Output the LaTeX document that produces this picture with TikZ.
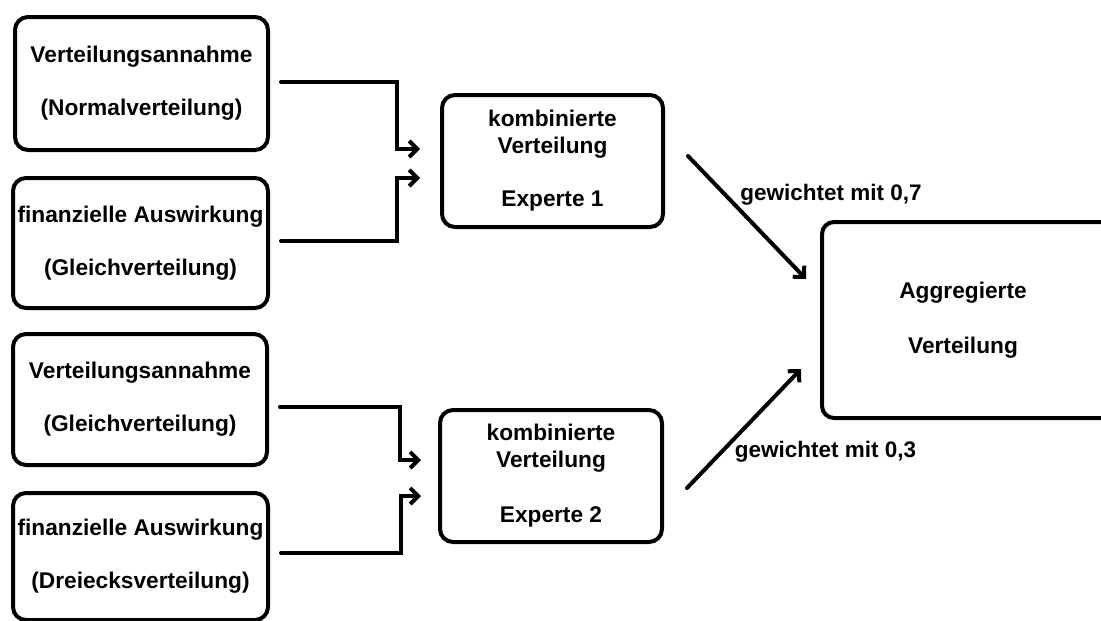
\documentclass[tikz,border=0pt]{standalone}
\usepackage{fontspec}
\setmainfont{Liberation Sans}
\usetikzlibrary{arrows.meta}
\begin{document}
\begin{tikzpicture}[x=1pt,y=-1pt,
  box/.style={draw=black, line width=4pt, rounded corners=13pt, align=center, inner sep=0pt,
    font=\bfseries\fontsize{22.7}{53}\selectfont},
  kbox/.style={box, font=\bfseries\fontsize{22.7}{27}\selectfont},
  conn/.style={line width=4pt, line cap=round, -{Straight Barb[length=8pt,width=16pt]}},
  lbl/.style={inner sep=0pt, font=\bfseries\fontsize{22.5}{26}\selectfont}]
\fill[white] (0,0) rectangle (1101,621);
\useasboundingbox (0,0) rectangle (1101,621);

\node[box, minimum width=253pt, minimum height=133pt] (A1) at (141.5,83.5)
  {\raisebox{-2pt}{Verteilungsannahme}\\\raisebox{-2pt}{(Normalverteilung)}};
\node[box, minimum width=255pt, minimum height=130pt] (A2) at (140.5,243)
  {finanzielle Auswirkung\\(Gleichverteilung)};
\node[box, minimum width=254pt, minimum height=131pt] (A3) at (140,399.5)
  {Verteilungsannahme\\(Gleichverteilung)};
\node[box, minimum width=255pt, minimum height=127pt] (A4) at (140.5,556.5)
  {\raisebox{-3pt}{finanzielle Auswirkung}\\\raisebox{-3pt}{(Dreiecksverteilung)}};

\node[kbox, minimum width=221pt, minimum height=132pt] (B1) at (552.5,161)
  {kombinierte\\Verteilung\\[26pt]Experte 1};
\node[kbox, minimum width=222pt, minimum height=132pt] (B2) at (551,476)
  {kombinierte\\Verteilung\\[28pt]Experte 2};

\node[box, rounded corners=12pt, minimum width=292pt, minimum height=196pt] (C) at (968,320)
  {\hspace*{-10pt}Aggregierte\\[2pt]\hspace*{-10pt}Verteilung};

\draw[conn, shorten <=11pt] ([yshift=1.5pt]A1.east) -- ++(127,0) |- ([xshift=-20pt,yshift=12pt]B1.west);
\draw[conn, shorten <=11pt] ([yshift=2pt]A2.east) -- ++(127,0) |- ([xshift=-20pt,yshift=-17pt]B1.west);
\draw[conn, shorten <=11pt] ([yshift=-7.5pt]A3.east) -- ++(131,0) |- ([xshift=-17pt,yshift=16pt]B2.west);
\draw[conn, shorten <=11pt] ([yshift=3.5pt]A4.east) -- ++(131,0) |- ([xshift=-17pt,yshift=-20pt]B2.west);

\draw[conn] ([xshift=23pt,yshift=5pt]B1.east) -- ([xshift=-14pt,yshift=41pt]C.west);
\draw[conn] ([xshift=23pt,yshift=-12pt]B2.east) -- ([xshift=-19pt,yshift=-49pt]C.west);

\node[lbl] (L1) at (831,195) {gewichtet mit 0,7};
\node[lbl] (L2) at (825.5,452) {gewichtet mit 0,3};
\end{tikzpicture}
\end{document}
